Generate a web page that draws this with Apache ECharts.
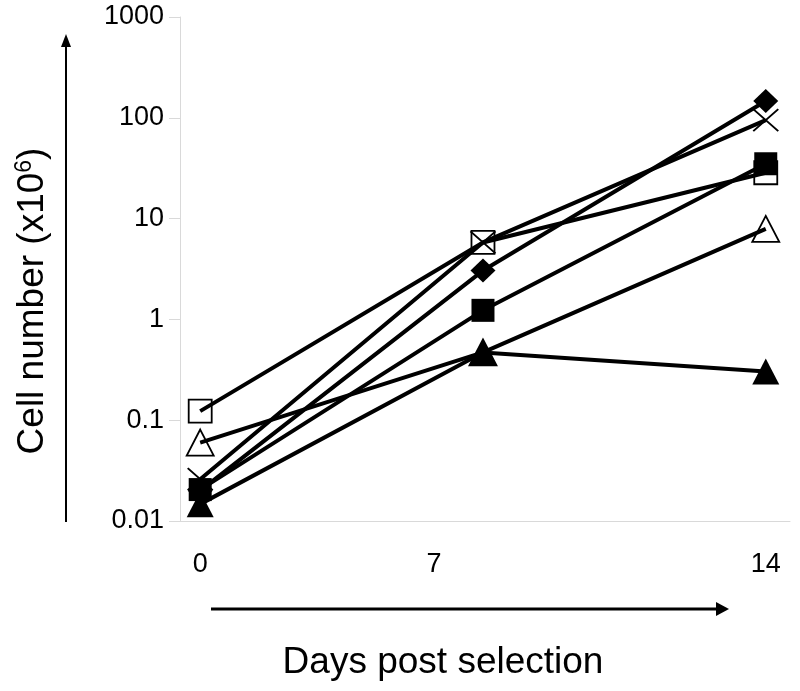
<!DOCTYPE html>
<html><head><meta charset="utf-8">
<script src="https://cdn.jsdelivr.net/npm/echarts@6/dist/echarts.min.js"></script>
<style>html,body{margin:0;padding:0;background:#fff}#c{width:800px;height:691px}</style>
</head><body><div id="c"></div>
<script>
var days = [0, 7, 14];
var xTickLabels = ['0', '7', '14'];
var yTickLabels = ['0.01', '0.1', '1', '10', '100', '1000'];
var filledDiamond = [0.02, 3.05, 147];
var crossMark = [0.026, 5.8, 95];
var openSquare = [0.123, 5.8, 28.5];
var filledSquare = [0.0205, 1.23, 35];
var openTriangle = [0.06, 0.47, 7.9];
var filledTriangle = [0.0147, 0.47, 0.305];

function pts(vals){ return days.map(function(d,i){ return [d, vals[i]]; }); }
var FONT = 'Liberation Sans, Arial, sans-serif';
var crossPath = 'path://M0,0L10,10M10,0L0,10';
function ser(name, vals, symbol, size, filled, extra){
  var s = {
    name: name, type: 'line', data: pts(vals), symbol: symbol, symbolSize: size,
    lineStyle: {color: '#000', width: 4},
    itemStyle: filled ? {color: '#000', borderColor: '#000', borderWidth: 0}
                      : {color: 'rgba(255,255,255,0)', borderColor: '#000', borderWidth: 1.8},
    emphasis: {disabled: true}, animation: false, showAllSymbol: true
  };
  if (extra) Object.assign(s, extra);
  return s;
}
var chart = echarts.init(document.getElementById('c'), null, {renderer: 'canvas'});
chart.setOption({
  animation: false,
  grid: {left: 180, top: 17, width: 610, height: 504, containLabel: false},
  xAxis: {
    type: 'value', min: -0.5, max: 14.6,
    axisLine: {show: true, onZero: false, lineStyle: {color: '#d9d9d9', width: 1}},
    axisTick: {show: false}, splitLine: {show: false},
    axisLabel: {
      customValues: days, margin: 30, color: '#000', fontFamily: FONT, fontSize: 27,
      formatter: function(v){ var i = days.indexOf(v); if (i === 1) return '{s|' + xTickLabels[i] + '}'; return i >= 0 ? xTickLabels[i] : ''; },
      rich: {s: {fontSize: 27, fontFamily: FONT, color: '#000', padding: [0, 98, 0, 0]}}
    }
  },
  yAxis: {
    type: 'log', logBase: 10, min: 0.01, max: 1000,
    axisLine: {show: true, onZero: false, lineStyle: {color: '#d9d9d9', width: 1}},
    axisTick: {show: true, length: 11, lineStyle: {color: '#d9d9d9'}},
    splitLine: {show: false},
    axisLabel: {
      margin: 16, color: '#000', fontFamily: FONT, fontSize: 27,
      formatter: function(v){
        var e = Math.round(Math.log10(v));
        var idx = e + 2;
        return yTickLabels[idx] !== undefined ? yTickLabels[idx] : '';
      }
    }
  },
  series: [
    ser('open square', openSquare, 'rect', 23, false),
    ser('open triangle', openTriangle, 'triangle', [27, 26], false),
    ser('filled triangle', filledTriangle, 'triangle', [27, 26], true),
    ser('filled square', filledSquare, 'rect', 23, true),
    ser('filled diamond', filledDiamond, 'diamond', [25, 24], true),
    ser('cross', crossMark, crossPath, [25, 22], false, {itemStyle: {color: 'rgba(0,0,0,0)', borderColor: '#000', borderWidth: 1.8}})
  ],
  graphic: [
    {type: 'line', shape: {x1: 66, y1: 522, x2: 66, y2: 45}, style: {stroke: '#000', lineWidth: 2}},
    {type: 'polygon', shape: {points: [[66, 34], [61, 47], [71, 47]]}, style: {fill: '#000'}},
    {type: 'line', shape: {x1: 211, y1: 609, x2: 718, y2: 609}, style: {stroke: '#000', lineWidth: 3}},
    {type: 'polygon', shape: {points: [[729, 609], [716, 602], [716, 616]]}, style: {fill: '#000'}},
    {type: 'text', x: 443, y: 663, style: {text: 'Days post selection', fill: '#000', font: '37px ' + FONT, textAlign: 'center', textVerticalAlign: 'middle'}},
    {type: 'text', x: 33, y: 301, rotation: Math.PI / 2,
      style: {text: '{n|Cell number (x10}{s|6}{n|)}', textAlign: 'center', textVerticalAlign: 'middle',
        rich: {n: {fontSize: 37, fontFamily: FONT, fill: '#000'}, s: {fontSize: 23, fontFamily: FONT, fill: '#000', verticalAlign: 'top', padding: [0, 0, 16, 0]}}}}
  ]
});
</script></body></html>
